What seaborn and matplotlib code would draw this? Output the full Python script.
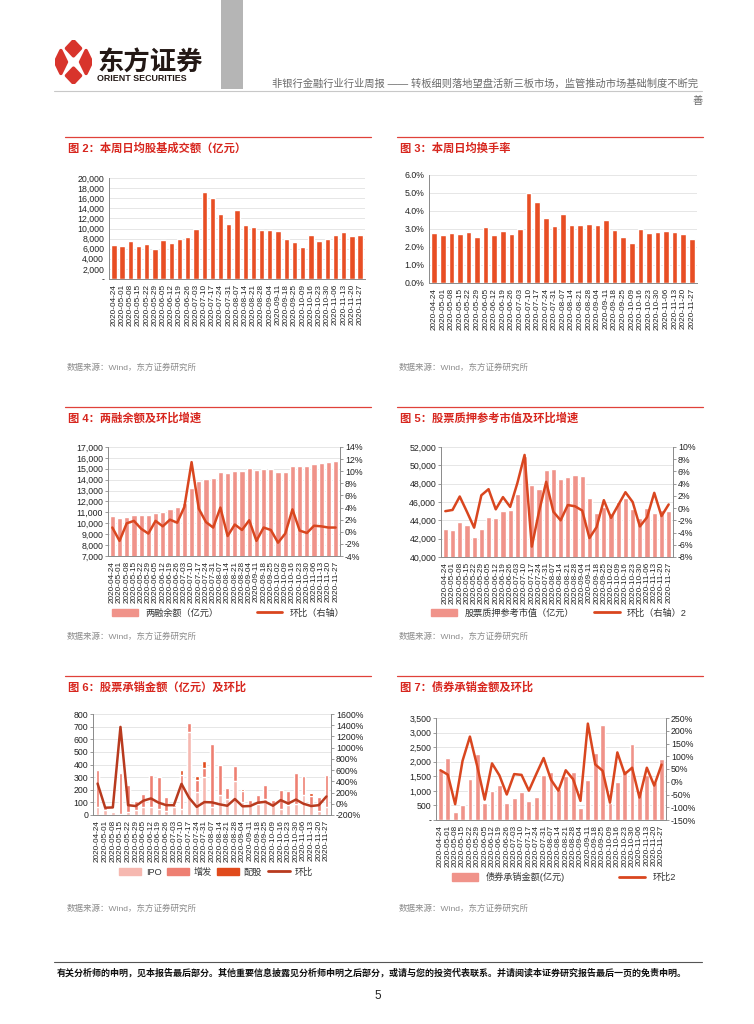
import numpy as np
import matplotlib
matplotlib.use('Agg')
import matplotlib.pyplot as plt
import seaborn as sns
from matplotlib.patches import Patch, Polygon, Rectangle
from matplotlib.lines import Line2D
from matplotlib.ticker import FuncFormatter, MultipleLocator

sns.set_style('white')
plt.rcParams['font.family'] = ['Liberation Sans', 'Noto Sans CJK SC', 'DejaVu Sans']

# --- data ---
weeks = ['2020-04-24', '2020-05-01', '2020-05-08', '2020-05-15', '2020-05-22', '2020-05-29',
         '2020-06-05', '2020-06-12', '2020-06-19', '2020-06-26', '2020-07-03', '2020-07-10',
         '2020-07-17', '2020-07-24', '2020-07-31', '2020-08-07', '2020-08-14', '2020-08-21',
         '2020-08-28', '2020-09-04', '2020-09-11', '2020-09-18', '2020-09-25', '2020-10-09',
         '2020-10-16', '2020-10-23', '2020-10-30', '2020-11-06', '2020-11-13', '2020-11-20',
         '2020-11-27']
weeks32 = weeks[:23] + ['2020-10-02'] + weeks[23:]

# 图2 日均股基成交额（亿元）
turnover_amt = [6700, 6600, 7600, 6600, 7000, 6000, 7700, 7200, 8000, 8300, 9900, 17300,
                16000, 12900, 10900, 13600, 10700, 10300, 9700, 9800, 9600, 8000, 7300,
                6400, 8700, 7500, 7900, 8700, 9400, 8600, 8700]
# 图3 日均换手率（%）
turnover_rate = [2.8, 2.65, 2.8, 2.7, 2.85, 2.55, 3.1, 2.65, 2.9, 2.75, 3.0, 5.0, 4.5, 3.6,
                 3.15, 3.85, 3.2, 3.2, 3.3, 3.25, 3.5, 2.95, 2.55, 2.2, 3.0, 2.8, 2.85, 2.9,
                 2.85, 2.7, 2.45]
# 图4 两融余额及环比
margin_bal = [10650, 10500, 10600, 10750, 10800, 10750, 10950, 11050, 11300, 11450, 11900,
              13250, 13850, 14050, 14150, 14700, 14600, 14800, 14800, 15100, 14850, 14950,
              14950, 14700, 14700, 15250, 15300, 15250, 15400, 15550, 15650, 15700]
margin_chg = [0.7, -1.5, 1.4, 1.8, 0.5, -0.3, 1.8, 0.9, 2.0, 1.5, 4.1, 11.5, 3.8, 1.6, 0.7,
              4.0, -0.7, 1.2, 0.3, 1.9, -1.5, 0.7, 0.3, -1.8, -0.3, 3.7, 0.2, -0.2, 1.0, 0.9,
              0.7, 0.7]
# 图5 股票质押参考市值及环比
pledge_val = [43050, 42950, 43800, 43450, 42150, 43050, 44350, 44300, 45050, 45150, 46900,
              51000, 47900, 47400, 49450, 49550, 48550, 48750, 48900, 48800, 46450, 44800,
              45400, 44800, 45950, 46450, 45250, 44250, 45350, 44750, 45100, 45050]
pledge_chg = [-0.5, -0.3, 1.9, -0.6, -3.2, 2.1, 3.1, -0.2, 1.8, 0.2, 4.1, 8.7, -6.3, -0.6,
              4.3, -0.6, -2.0, 0.5, 0.3, -0.4, -4.9, -3.1, 1.3, -1.6, 0.5, 2.6, 1.0, -3.0,
              -1.5, 2.5, -1.3, 0.6]
# 图6 股票承销金额（亿元）及环比
ipo = [65, 40, 20, 10, 20, 40, 60, 60, 50, 30, 60, 50, 660, 180, 300, 60, 160, 130, 270, 100,
       80, 90, 130, 80, 50, 80, 90, 160, 80, 30, 60]
seo = [290, 20, 0, 325, 215, 70, 110, 255, 250, 110, 20, 265, 70, 100, 70, 500, 235, 85, 120,
       90, 40, 70, 105, 40, 150, 110, 245, 150, 70, 115, 255]
rights = [0, 0, 0, 0, 0, 0, 0, 0, 0, 0, 0, 40, 0, 30, 60, 0, 0, 0, 0, 15, 0, 0, 0, 0, 0, 0, 0,
          0, 25, 0, 0]
equity_chg = [360, -70, -65, 1370, -25, -40, 55, 95, 20, -25, -25, 355, 105, -55, 30, 25, -10,
              -35, 85, -45, -40, 20, 35, -35, 65, 5, 75, 0, -40, -25, 130]
# 图7 债券承销金额及环比
bond_amt = [1700, 2130, 285, 510, 1400, 2280, 570, 990, 1195, 580, 765, 970, 640, 790, 1530,
            1650, 1070, 1500, 1650, 410, 1360, 2300, 3270, 600, 1320, 1700, 2610, 1000, 1540,
            1310, 2090]
bond_chg = [45, 28, -88, 82, 177, 60, -70, 72, 25, -50, 30, 27, -35, 30, 93, 8, -35, 45, 10,
            -75, 228, 68, 43, -82, 115, 30, 55, -62, 55, -15, 67]

# --- colours ---
RED_T = '#D7261E'
BAR_DARK = '#E84E24'
BAR_LIGHT = '#F0938A'
LINE = '#D9461F'
C_IPO, C_SEO, C_RIGHTS, C_CHG = '#F6B8B0', '#EE7F72', '#E04A1C', '#B83A1E'
FS = 6.3
FSX = 5.9

W, H = 754, 1024
fig = plt.figure(figsize=(W / 100, H / 100), dpi=100)


def box(x0, y0, x1, y1):
    return fig.add_axes([x0 / W, 1 - y1 / H, (x1 - x0) / W, (y1 - y0) / H])


def txt(x, y, s, **kw):
    fig.text(x / W, 1 - y / H, s, **kw)


def hline(x0, x1, y, color, lw):
    fig.add_artist(Line2D([x0 / W, x1 / W], [1 - y / H] * 2, color=color, lw=lw))


def base_style(ax, labels):
    n = len(labels)
    ax.set_xlim(-0.6, n - 0.4)
    ax.set_xticks(range(n))
    ax.set_xticklabels(labels, rotation=90, fontsize=FSX)
    ax.set_xlabel('')
    ax.set_ylabel('')
    ax.grid(axis='y', color='#E2E2E2', lw=0.6)
    ax.set_axisbelow(True)
    for s in ['top', 'right']:
        ax.spines[s].set_visible(False)
    for s in ['left', 'bottom']:
        ax.spines[s].set_color('#8A8A8A')
        ax.spines[s].set_linewidth(0.7)
    ax.tick_params(axis='both', length=2, width=0.6, pad=1.5,
                   colors='#8A8A8A', labelcolor='#222222')
    ax.tick_params(axis='y', labelsize=FS)


def twin_style(ax2):
    for s in ['top', 'left', 'bottom']:
        ax2.spines[s].set_visible(False)
    ax2.spines['right'].set_color('#8A8A8A')
    ax2.spines['right'].set_linewidth(0.7)
    ax2.set_ylabel('')
    ax2.tick_params(axis='y', labelsize=FS, length=2, width=0.6, pad=1.5,
                    colors='#8A8A8A', labelcolor='#222222')


def panel_frame(x0, x1, y_rule, title, y_src):
    hline(x0, x1, y_rule, '#E0413A', 0.9)
    txt(x0 + 3, y_rule + 15, title, fontsize=8.1, fontweight='bold', color=RED_T)
    txt(x0 + 2, y_src + 3, '数据来源：Wind，东方证券研究所', fontsize=6.1, color='#8C8C8C')


dash_fmt = FuncFormatter(lambda v, p: '-' if abs(v) < 1e-9 else f'{v:,.0f}')
comma_fmt = FuncFormatter(lambda v, p: f'{v:,.0f}')
pct_fmt = FuncFormatter(lambda v, p: f'{v:.0f}%')

# --- header ---
ax_logo = box(55, 40, 92, 84)
ax_logo.axis('off')
ax_logo.set_xlim(0, 1)
ax_logo.set_ylim(0, 1)
for cx, cy, hw, hh in [(0.5, 0.81, 0.19, 0.17), (0.5, 0.19, 0.19, 0.17),
                       (0.16, 0.5, 0.15, 0.26), (0.84, 0.5, 0.15, 0.26)]:
    ax_logo.add_patch(Polygon([(cx, cy + hh), (cx + hw, cy), (cx, cy - hh), (cx - hw, cy)],
                              closed=True, fc='#D8342C', ec='#D8342C', lw=2.5, joinstyle='round'))
txt(97, 71, '东方证券', fontsize=19, fontweight='bold', color='#231815')
txt(97, 81, 'ORIENT SECURITIES', fontsize=6.4, fontweight='bold', color='#231815')
fig.add_artist(Rectangle((221 / W, 1 - 89 / H), 22 / W, 89 / H, transform=fig.transFigure,
                         color='#B5B5B5', lw=0))
txt(272, 87, '非银行金融行业行业周报 —— 转板细则落地望盘活新三板市场，监管推动市场基础制度不断完',
    fontsize=7.4, color='#6A6A6A')
hline(54, 702, 91, '#C8C8C8', 0.8)
txt(692, 104, '善', fontsize=7.4, color='#6A6A6A')

# --- 图2 ---
panel_frame(65, 371, 137, '图 2：本周日均股基成交额（亿元）', 367)
ax = box(109, 178, 365, 279)
sns.barplot(x=weeks, y=turnover_amt, ax=ax, color=BAR_DARK, saturation=1, width=0.65)
base_style(ax, weeks)
ax.set_ylim(0, 20000)
ax.yaxis.set_major_locator(MultipleLocator(2000))
ax.yaxis.set_major_formatter(dash_fmt)

# --- 图3 ---
panel_frame(397, 703, 137, '图 3：本周日均换手率', 367)
ax = box(429, 175, 697, 283)
sns.barplot(x=weeks, y=turnover_rate, ax=ax, color=BAR_DARK, saturation=1, width=0.65)
base_style(ax, weeks)
ax.set_ylim(0, 6)
ax.yaxis.set_major_locator(MultipleLocator(1))
ax.yaxis.set_major_formatter(FuncFormatter(lambda v, p: f'{v:.1f}%'))

# --- 图4 ---
panel_frame(65, 371, 407, '图 4：两融余额及环比增速', 636)
ax = box(108, 447, 340, 556)
sns.barplot(x=weeks32, y=margin_bal, ax=ax, color=BAR_LIGHT, saturation=1, width=0.72)
base_style(ax, weeks32)
ax.set_ylim(7000, 17000)
ax.yaxis.set_major_locator(MultipleLocator(1000))
ax.yaxis.set_major_formatter(comma_fmt)
ax2 = ax.twinx()
sns.lineplot(x=np.arange(len(margin_chg)), y=margin_chg, ax=ax2, color=LINE, lw=1.8)
twin_style(ax2)
ax2.set_ylim(-4, 14)
ax2.yaxis.set_major_locator(MultipleLocator(2))
ax2.yaxis.set_major_formatter(pct_fmt)
ax.set_xlim(-0.6, len(weeks32) - 0.4)
fig.legend([Patch(color=BAR_LIGHT), Line2D([], [], color=LINE, lw=2)],
           ['两融余额（亿元）', '环比（右轴）'], loc='center left',
           bbox_to_anchor=(104 / W, 1 - 613 / H), ncol=2, frameon=False, fontsize=6.6,
           handlelength=2.8, handleheight=0.9, columnspacing=4.2, labelcolor='#333333')

# --- 图5 ---
panel_frame(397, 703, 407, '图 5：股票质押参考市值及环比增速', 636)
ax = box(441, 447, 673, 557)
sns.barplot(x=weeks32, y=pledge_val, ax=ax, color=BAR_LIGHT, saturation=1, width=0.72)
base_style(ax, weeks32)
ax.set_ylim(40000, 52000)
ax.yaxis.set_major_locator(MultipleLocator(2000))
ax.yaxis.set_major_formatter(comma_fmt)
ax2 = ax.twinx()
sns.lineplot(x=np.arange(len(pledge_chg)), y=pledge_chg, ax=ax2, color=LINE, lw=1.8)
twin_style(ax2)
ax2.set_ylim(-8, 10)
ax2.yaxis.set_major_locator(MultipleLocator(2))
ax2.yaxis.set_major_formatter(pct_fmt)
ax.set_xlim(-0.6, len(weeks32) - 0.4)
fig.legend([Patch(color=BAR_LIGHT), Line2D([], [], color=LINE, lw=2)],
           ['股票质押参考市值（亿元）', '环比（右轴）2'], loc='center left',
           bbox_to_anchor=(423 / W, 1 - 613 / H), ncol=2, frameon=False, fontsize=6.6,
           handlelength=2.8, handleheight=0.9, columnspacing=2.2, labelcolor='#333333')

# --- 图6 ---
panel_frame(65, 371, 676, '图 6：股票承销金额（亿元）及环比', 908)
ax = box(93, 714, 331, 815)
stack_top = [a + b + c for a, b, c in zip(ipo, seo, rights)]
stack_mid = [a + b for a, b in zip(ipo, seo)]
sns.barplot(x=weeks, y=stack_top, ax=ax, color=C_RIGHTS, saturation=1, width=0.5)
sns.barplot(x=weeks, y=stack_mid, ax=ax, color=C_SEO, saturation=1, width=0.5)
sns.barplot(x=weeks, y=ipo, ax=ax, color=C_IPO, saturation=1, width=0.5)
base_style(ax, weeks)
ax.set_ylim(0, 800)
ax.yaxis.set_major_locator(MultipleLocator(100))
ax.yaxis.set_major_formatter(comma_fmt)
ax2 = ax.twinx()
sns.lineplot(x=np.arange(len(equity_chg)), y=equity_chg, ax=ax2, color=C_CHG, lw=1.8)
twin_style(ax2)
ax2.set_ylim(-200, 1600)
ax2.yaxis.set_major_locator(MultipleLocator(200))
ax2.yaxis.set_major_formatter(pct_fmt)
ax.set_xlim(-0.6, len(weeks) - 0.4)
fig.legend([Patch(color=C_IPO), Patch(color=C_SEO), Patch(color=C_RIGHTS),
            Line2D([], [], color=C_CHG, lw=2)],
           ['IPO', '增发', '配股', '环比'], loc='center left',
           bbox_to_anchor=(111 / W, 1 - 872 / H), ncol=4, frameon=False, fontsize=6.6,
           handlelength=2.4, handleheight=0.9, columnspacing=0.6, handletextpad=0.5,
           labelcolor='#333333')

# --- 图7 ---
panel_frame(397, 703, 676, '图 7：债券承销金额及环比', 908)
ax = box(436, 718, 666, 820)
sns.barplot(x=weeks, y=bond_amt, ax=ax, color=BAR_LIGHT, saturation=1, width=0.65)
base_style(ax, weeks)
ax.set_ylim(0, 3500)
ax.yaxis.set_major_locator(MultipleLocator(500))
ax.yaxis.set_major_formatter(dash_fmt)
ax2 = ax.twinx()
sns.lineplot(x=np.arange(len(bond_chg)), y=bond_chg, ax=ax2, color=LINE, lw=1.8)
twin_style(ax2)
ax2.set_ylim(-150, 250)
ax2.yaxis.set_major_locator(MultipleLocator(50))
ax2.yaxis.set_major_formatter(pct_fmt)
ax.set_xlim(-0.6, len(weeks) - 0.4)
fig.legend([Patch(color=BAR_LIGHT), Line2D([], [], color=LINE, lw=2)],
           ['债券承销金额(亿元)', '环比2'], loc='center left',
           bbox_to_anchor=(444 / W, 1 - 877 / H), ncol=2, frameon=False, fontsize=6.6,
           handlelength=2.8, handleheight=0.9, columnspacing=6.0, labelcolor='#333333')

# --- footer ---
hline(54, 702, 962, '#555555', 0.8)
txt(57, 976, '有关分析师的申明，见本报告最后部分。其他重要信息披露见分析师申明之后部分，或请与您的投资代表联系。'
             '并请阅读本证券研究报告最后一页的免责申明。', fontsize=6.5, fontweight='bold', color='#111111')
txt(378, 999, '5', fontsize=8.5, ha='center', color='#222222')

fig.savefig('out.png', dpi=100)
